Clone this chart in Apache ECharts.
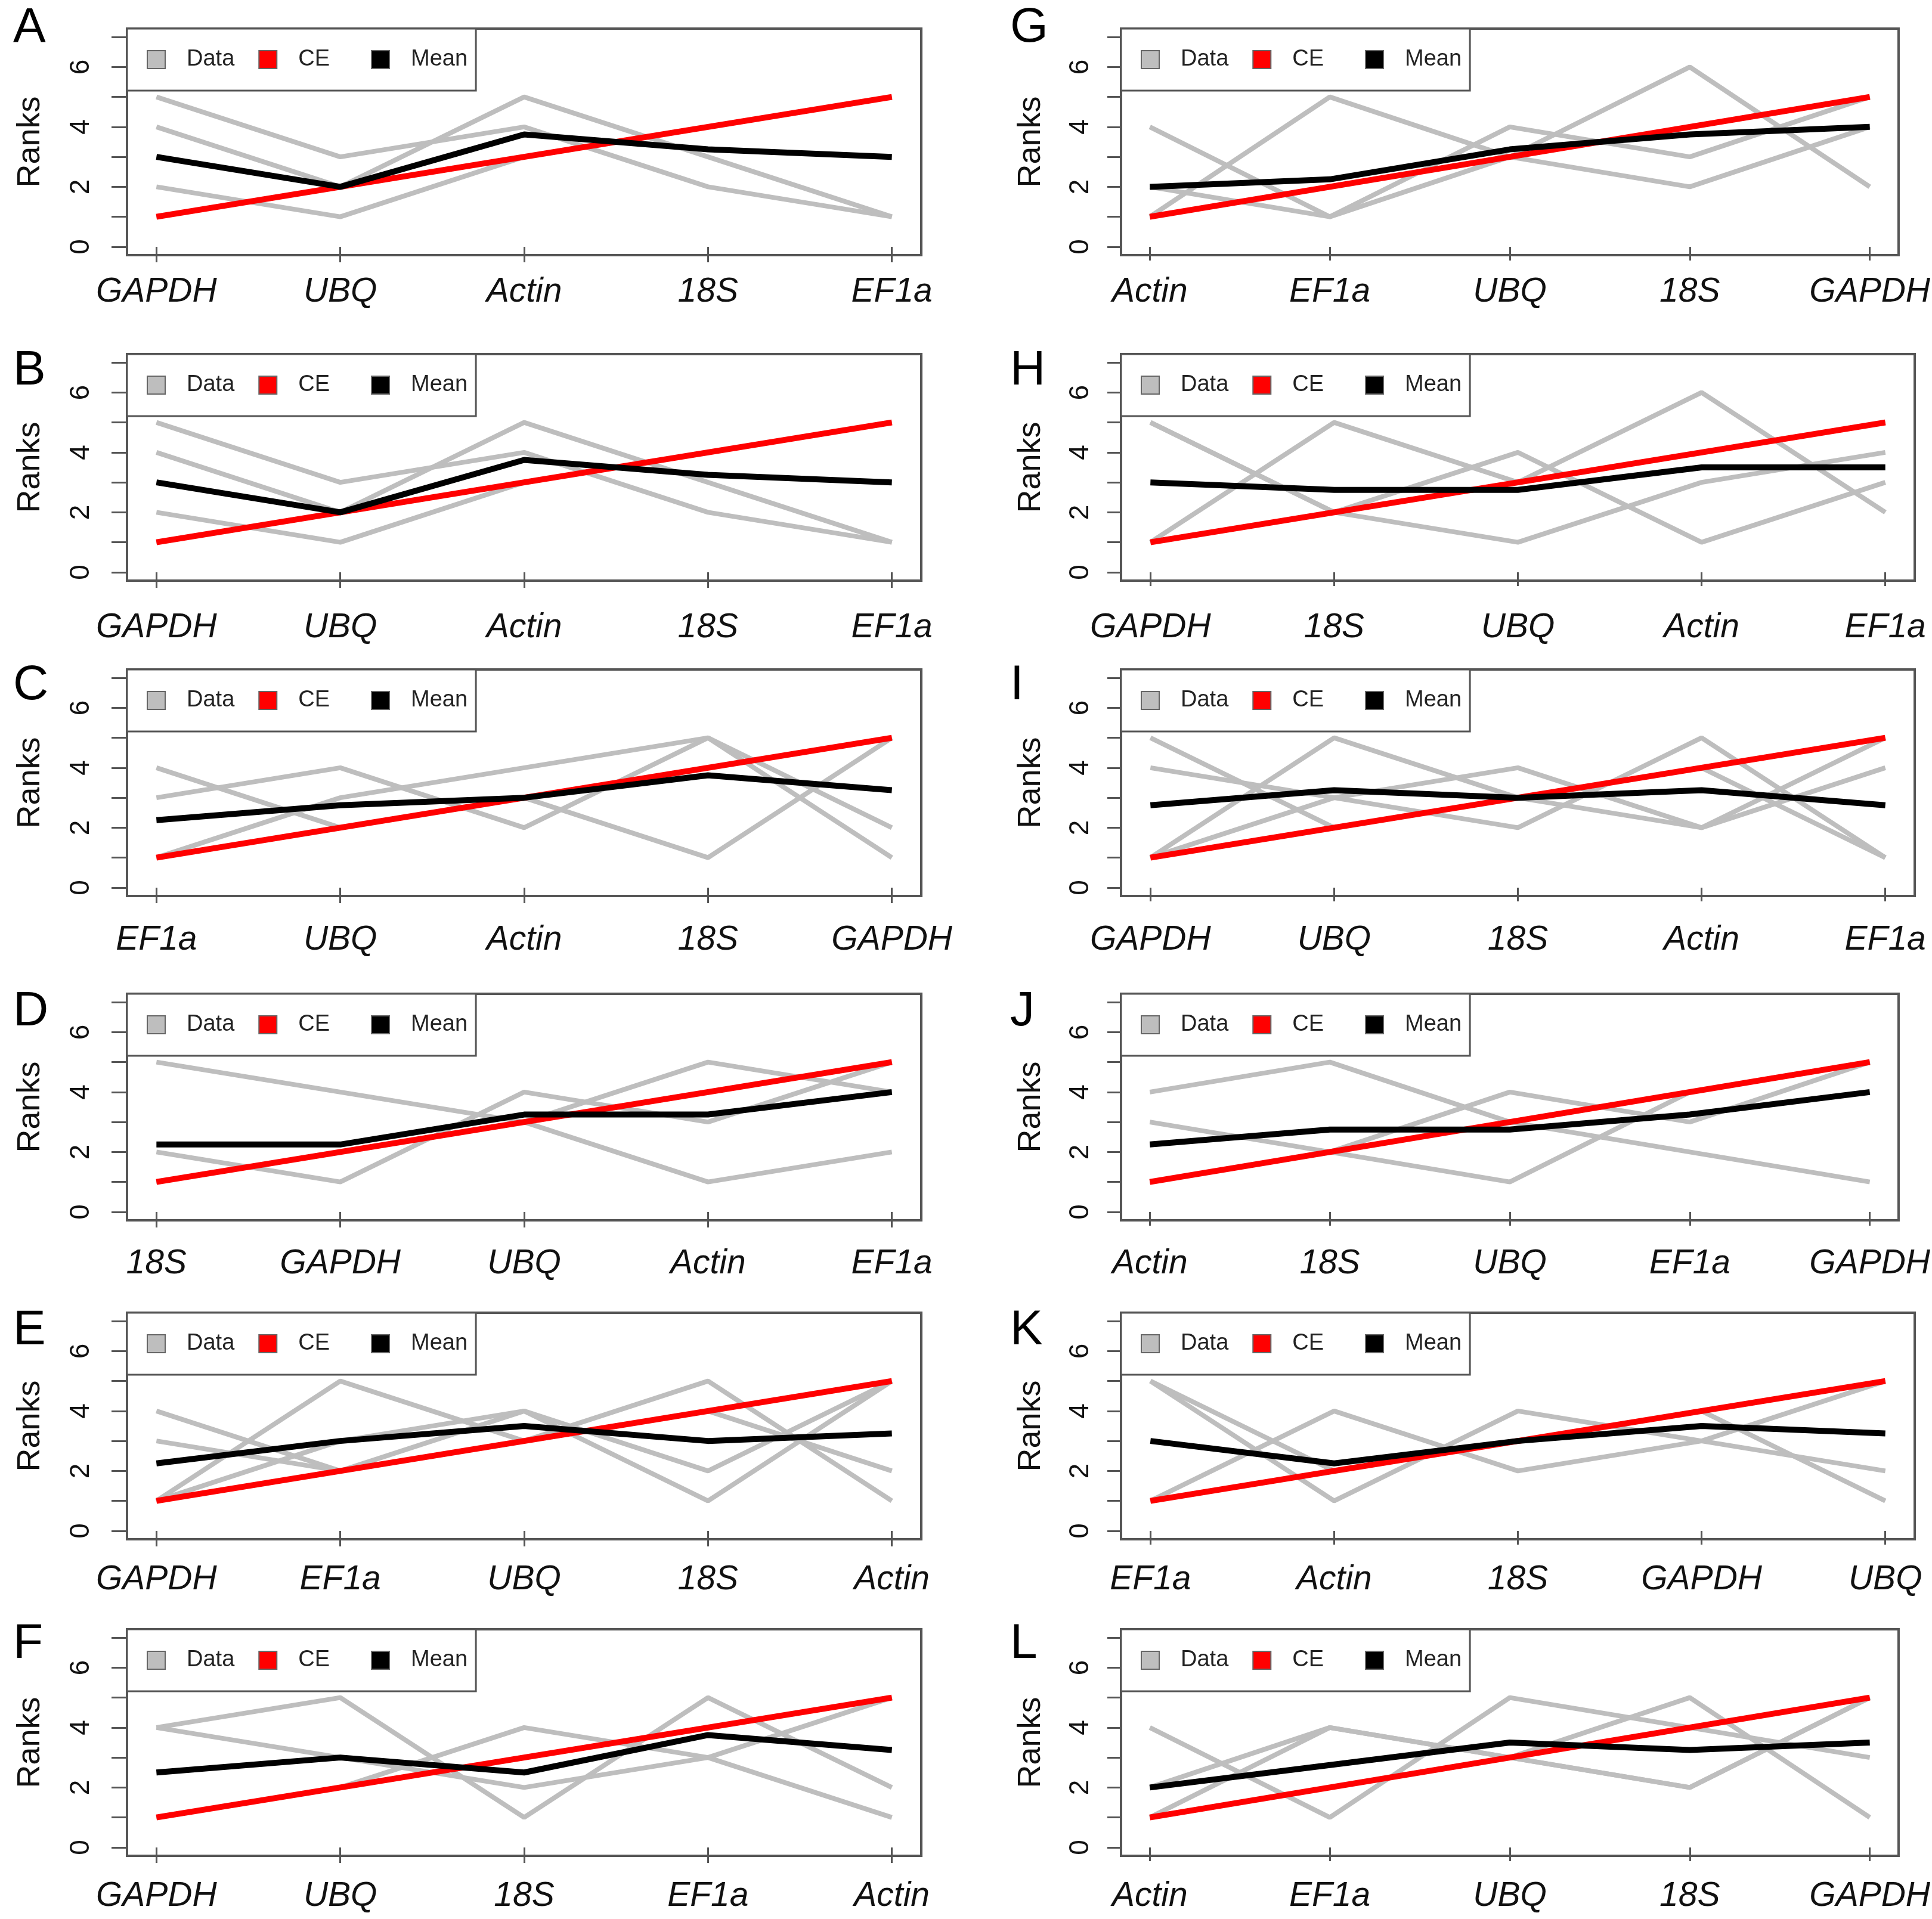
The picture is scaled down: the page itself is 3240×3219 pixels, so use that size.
<!DOCTYPE html>
<html><head><meta charset="utf-8">
<script src="https://cdn.jsdelivr.net/npm/echarts@6/dist/echarts.min.js"></script>
<style>html,body{margin:0;padding:0;background:#fff}#c{width:3240px;height:3219px}</style>
</head><body><div id="c"></div>
<script>
// ---------------- DATA ----------------
const panelLetters = ['A','B','C','D','E','F','G','H','I','J','K','L'];
const ceRanks = [1, 2, 3, 4, 5];
const yTickValues = [0, 1, 2, 3, 4, 5, 6, 7];
const yLabelValues = [0, 2, 4, 6];

const catsA = ['GAPDH','UBQ','Actin','18S','EF1a'];
const dataA = [[5,3,4,2,1],[4,2,5,3,1],[2,1,3,4,5],[1,2,3,4,5]];
const meanA = [3,2,3.75,3.25,3];

const catsB = ['GAPDH','UBQ','Actin','18S','EF1a'];
const dataB = [[5,3,4,2,1],[4,2,5,3,1],[2,1,3,4,5],[1,2,3,4,5]];
const meanB = [3,2,3.75,3.25,3];

const catsC = ['EF1a','UBQ','Actin','18S','GAPDH'];
const dataC = [[4,2,3,1,5],[3,4,2,5,1],[1,3,4,5,2],[1,2,3,4,5]];
const meanC = [2.25,2.75,3,3.75,3.25];

const catsD = ['18S','GAPDH','UBQ','Actin','EF1a'];
const dataD = [[5,4,3,1,2],[2,1,4,3,5],[1,2,3,5,4],[1,2,3,4,5]];
const meanD = [2.25,2.25,3.25,3.25,4];

const catsE = ['GAPDH','EF1a','UBQ','18S','Actin'];
const dataE = [[4,2,3,5,1],[3,2,4,1,5],[1,5,3,4,2],[1,3,4,2,5]];
const meanE = [2.25,3,3.5,3,3.25];

const catsF = ['GAPDH','UBQ','18S','EF1a','Actin'];
const dataF = [[1,2,4,3,5],[4,5,1,5,2],[4,3,2,3,1],[1,2,3,4,5]];
const meanF = [2.5,3,2.5,3.75,3.25];

const catsG = ['Actin','EF1a','UBQ','18S','GAPDH'];
const dataG = [[4,1,4,3,5],[1,5,3,6,2],[2,1,3,2,4],[1,2,3,4,5]];
const meanG = [2,2.25,3.25,3.75,4];

const catsH = ['GAPDH','18S','UBQ','Actin','EF1a'];
const dataH = [[1,5,3,6,2],[5,2,4,1,3],[5,2,1,3,4],[1,2,3,4,5]];
const meanH = [3,2.75,2.75,3.5,3.5];

const catsI = ['GAPDH','UBQ','18S','Actin','EF1a'];
const dataI = [[5,2,3,4,1],[4,3,2,5,1],[1,5,3,2,4],[1,3,4,2,5]];
const meanI = [2.75,3.25,3,3.25,2.75];

const catsJ = ['Actin','18S','UBQ','EF1a','GAPDH'];
const dataJ = [[4,5,3,2,1],[3,2,1,4,5],[1,2,4,3,5],[1,2,3,4,5]];
const meanJ = [2.25,2.75,2.75,3.25,4];

const catsK = ['EF1a','Actin','18S','GAPDH','UBQ'];
const dataK = [[1,4,2,3,5],[5,1,4,3,2],[5,2,3,4,1],[1,2,3,4,5]];
const meanK = [3,2.25,3,3.5,3.25];

const catsL = ['Actin','EF1a','UBQ','18S','GAPDH'];
const dataL = [[4,1,5,4,3],[2,4,3,5,1],[1,4,3,2,5],[1,2,3,2,5]];
const meanL = [2,2.75,3.5,3.25,3.5];

// ---------------- LAYOUT ----------------
const fontFam = '"Liberation Sans", Arial, Helvetica, sans-serif';
const colLeft = [213, 1880];
const colWidth = [1332, 1331];
const rowTop = [48, 594, 1123, 1667, 2202, 2733];
const boxH = 380;
const letterY = [47, 622, 1150, 1697, 2232, 2758];
const letterX = [22, 1694];
const tickLen = [26, 23];
const yLabMargin = [54, 45];
const nameGapY = [135, 124];
const xLabMargin = [34, 51, 46, 45, 40, 40];

const panels = [
  [catsA, dataA, meanA], [catsB, dataB, meanB], [catsC, dataC, meanC],
  [catsD, dataD, meanD], [catsE, dataE, meanE], [catsF, dataF, meanF],
  [catsG, dataG, meanG], [catsH, dataH, meanH], [catsI, dataI, meanI],
  [catsJ, dataJ, meanJ], [catsK, dataK, meanK], [catsL, dataL, meanL]
];

const grids = [], xAxes = [], yAxes = [], series = [], legends = [], graphics = [];
const axisColor = '#555';

panels.forEach((p, i) => {
  const [cats, data, mean] = p;
  const col = i < 6 ? 0 : 1;
  const row = i % 6;
  const left = colLeft[col], top = rowTop[row];
  grids.push({
    left: left, top: top, width: colWidth[col], height: boxH,
    show: true, borderColor: axisColor, borderWidth: 4, backgroundColor: 'transparent'
  });
  const xPos = cats.map((c, j) => j + 1);
  xAxes.push({
    type: 'value', gridIndex: i, min: 0.84, max: 5.16,
    axisLine: { show: false }, splitLine: { show: false },
    axisTick: { show: true, customValues: xPos, length: tickLen[col], lineStyle: { color: axisColor, width: 3 } },
    axisLabel: {
      customValues: xPos, margin: xLabMargin[row],
      formatter: v => cats[Math.round(v) - 1] || '',
      fontSize: 57, fontStyle: 'italic', color: '#111', fontFamily: fontFam
    }
  });
  yAxes.push({
    type: 'value', gridIndex: i, min: -0.28, max: 7.28,
    axisLine: { show: false }, splitLine: { show: false },
    axisTick: { show: true, customValues: yTickValues, length: tickLen[col], lineStyle: { color: axisColor, width: 3 } },
    axisLabel: {
      customValues: yLabelValues, rotate: 90, margin: yLabMargin[col],
      fontSize: 46, color: '#111', fontFamily: fontFam
    },
    name: 'Ranks', nameLocation: 'middle', nameGap: nameGapY[col],
    nameTextStyle: { fontSize: 54, color: '#111', fontFamily: fontFam }
  });
  data.forEach(d => {
    series.push({
      name: 'Data', type: 'line', xAxisIndex: i, yAxisIndex: i,
      data: d.map((v, j) => [xPos[j], v]), symbol: 'none', silent: true, z: 2,
      lineStyle: { color: '#bebebe', width: 8 }, itemStyle: { color: '#bebebe' }
    });
  });
  series.push({
    name: 'CE', type: 'line', xAxisIndex: i, yAxisIndex: i,
    data: ceRanks.map((v, j) => [xPos[j], v]), symbol: 'none', silent: true, z: 3,
    lineStyle: { color: '#ff0000', width: 10 }, itemStyle: { color: '#ff0000' }
  });
  series.push({
    name: 'Mean', type: 'line', xAxisIndex: i, yAxisIndex: i,
    data: mean.map((v, j) => [xPos[j], v]), symbol: 'none', silent: true, z: 4,
    lineStyle: { color: '#000000', width: 10 }, itemStyle: { color: '#000000' }
  });
  legends.push({
    left: left, top: top, orient: 'horizontal', selectedMode: false,
    icon: 'rect', itemWidth: 30, itemHeight: 30, itemGap: 40,
    padding: [33, 14, 33, 33],
    borderColor: axisColor, borderWidth: 3, backgroundColor: '#fff',
    textStyle: { fontSize: 38, color: '#222', fontFamily: fontFam, lineHeight: 30 },
    data: [
      { name: 'Data', itemStyle: { color: '#bebebe', borderColor: '#666', borderWidth: 2 }, textStyle: { padding: [0, 0, 0, 31] } },
      { name: 'CE', itemStyle: { color: '#ff0000', borderColor: '#666', borderWidth: 2 }, textStyle: { padding: [0, 29, 0, 31] } },
      { name: 'Mean', itemStyle: { color: '#000000', borderColor: '#666', borderWidth: 2 }, textStyle: { padding: [0, 0, 0, 31] } }
    ]
  });
  graphics.push({
    type: 'text', x: letterX[col], y: letterY[row], silent: true,
    style: {
      text: panelLetters[i], fill: '#000', font: 'normal 82px ' + fontFam,
      align: 'left', verticalAlign: 'middle', textAlign: 'left', textVerticalAlign: 'middle'
    }
  });
});

const chart = echarts.init(document.getElementById('c'), null, { renderer: 'canvas', width: 3240, height: 3219 });
chart.setOption({
  backgroundColor: '#ffffff',
  animation: false,
  grid: grids, xAxis: xAxes, yAxis: yAxes, series: series,
  legend: legends, graphic: graphics
});
</script></body></html>
